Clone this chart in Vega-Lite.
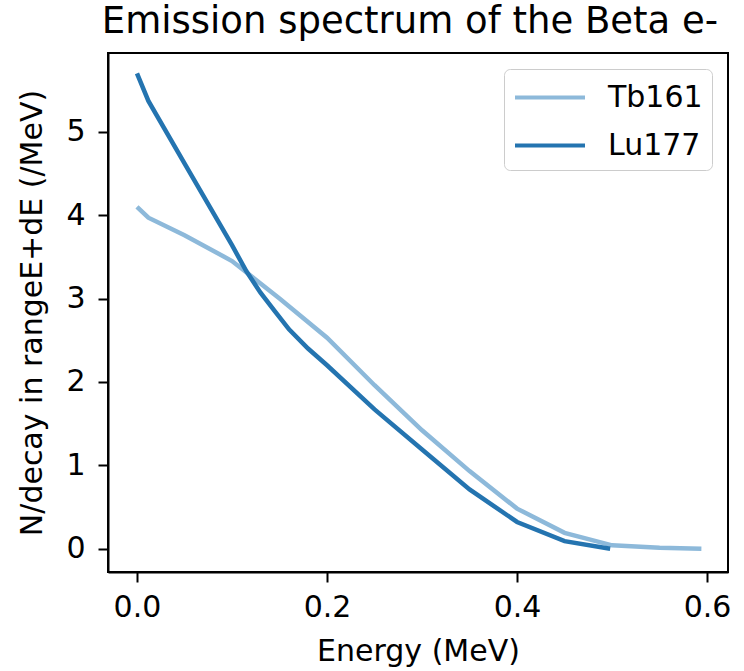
{
  "$schema": "https://vega.github.io/schema/vega-lite/v6.json",
  "width": 620,
  "height": 519,
  "autosize": "none",
  "padding": {"left": 108, "top": 53, "right": 16, "bottom": 99},
  "background": "white",
  "config": {
    "font": "DejaVu Sans",
    "view": {"stroke": "black", "strokeWidth": 2},
    "axis": {"grid": false, "domainColor": "black", "domainWidth": 2, "tickColor": "black", "tickWidth": 2, "tickSize": 10, "labelFontSize": 30, "titleFontSize": 30, "labelColor": "black", "titleColor": "black", "titleFontWeight": "normal", "labelFont": "DejaVu Sans", "titleFont": "DejaVu Sans"},
    "title": {"fontSize": 37, "fontWeight": "normal", "font": "DejaVu Sans", "color": "black"}
  },
  "title": {"text": "Emission spectrum of the Beta e-", "anchor": "middle", "baseline": "bottom", "offset": -25, "dx": -8},
  "data": {
    "values": [
      {"nuclide": "Tb161", "E": 0.0, "N": 4.10},
      {"nuclide": "Tb161", "E": 0.012, "N": 3.97},
      {"nuclide": "Tb161", "E": 0.05, "N": 3.76},
      {"nuclide": "Tb161", "E": 0.1, "N": 3.45},
      {"nuclide": "Tb161", "E": 0.15, "N": 3.0},
      {"nuclide": "Tb161", "E": 0.2, "N": 2.53},
      {"nuclide": "Tb161", "E": 0.25, "N": 1.96},
      {"nuclide": "Tb161", "E": 0.3, "N": 1.42},
      {"nuclide": "Tb161", "E": 0.35, "N": 0.93},
      {"nuclide": "Tb161", "E": 0.4, "N": 0.48},
      {"nuclide": "Tb161", "E": 0.45, "N": 0.19},
      {"nuclide": "Tb161", "E": 0.5, "N": 0.04},
      {"nuclide": "Tb161", "E": 0.55, "N": 0.01},
      {"nuclide": "Tb161", "E": 0.594, "N": 0.0},
      {"nuclide": "Lu177", "E": 0.0, "N": 5.70},
      {"nuclide": "Lu177", "E": 0.012, "N": 5.37},
      {"nuclide": "Lu177", "E": 0.05, "N": 4.62},
      {"nuclide": "Lu177", "E": 0.1, "N": 3.64},
      {"nuclide": "Lu177", "E": 0.115, "N": 3.33},
      {"nuclide": "Lu177", "E": 0.13, "N": 3.07},
      {"nuclide": "Lu177", "E": 0.145, "N": 2.85},
      {"nuclide": "Lu177", "E": 0.16, "N": 2.63},
      {"nuclide": "Lu177", "E": 0.18, "N": 2.40},
      {"nuclide": "Lu177", "E": 0.2, "N": 2.20},
      {"nuclide": "Lu177", "E": 0.25, "N": 1.67},
      {"nuclide": "Lu177", "E": 0.3, "N": 1.19},
      {"nuclide": "Lu177", "E": 0.35, "N": 0.71},
      {"nuclide": "Lu177", "E": 0.4, "N": 0.32},
      {"nuclide": "Lu177", "E": 0.45, "N": 0.09},
      {"nuclide": "Lu177", "E": 0.498, "N": 0.0}
    ]
  },
  "mark": {"type": "line", "strokeWidth": 4.5},
  "encoding": {
    "x": {"field": "E", "type": "quantitative", "title": "Energy (MeV)",
      "scale": {"domain": [-0.0305, 0.622], "nice": false, "zero": false},
      "axis": {"values": [0, 0.2, 0.4, 0.6], "format": ".1f", "labelPadding": 10, "titlePadding": 14}},
    "y": {"field": "N", "type": "quantitative", "title": "N/decay in rangeE+dE (/MeV)",
      "scale": {"domain": [-0.28, 5.945], "nice": false, "zero": false},
      "axis": {"values": [0, 1, 2, 3, 4, 5], "labelPadding": 13, "titlePadding": 18}},
    "color": {"field": "nuclide", "type": "nominal",
      "scale": {"domain": ["Tb161", "Lu177"], "range": ["#8db9da", "#2474b0"]},
      "legend": {"title": null, "orient": "top-right", "offset": 16, "symbolType": "M-1,0H3", "symbolSize": 1225, "symbolStrokeWidth": 4, "labelFontSize": 30, "labelOffset": 56, "padding": 9, "rowPadding": 13, "strokeColor": "#cccccc", "fillColor": "white", "cornerRadius": 6, "labelColor": "black", "labelFont": "DejaVu Sans"}}
  }
}
